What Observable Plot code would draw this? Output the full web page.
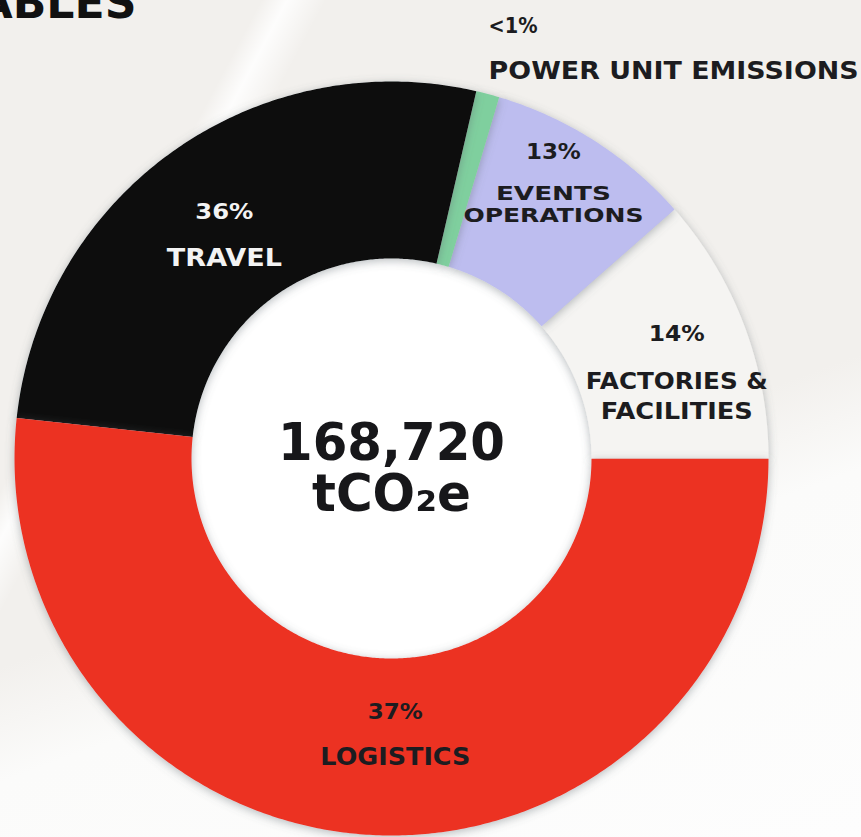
<!DOCTYPE html>
<html>
<head>
<meta charset="utf-8">
<script src="https://cdn.jsdelivr.net/npm/d3@7"></script>
<script src="https://cdn.jsdelivr.net/npm/@observablehq/plot@0.6"></script>
<style>
  html, body { margin: 0; padding: 0; }
  body {
    width: 861px; height: 837px; overflow: hidden; position: relative;
    background:
      linear-gradient(118deg, rgba(255,255,255,0) 0 20%, rgba(255,255,255,0.85) 22%, rgba(255,255,255,0) 25%),
      linear-gradient(160deg, #f2f0ed 0 58%, #fbfbfa 68%, #fdfdfd 100%);
  }
  #chart svg { display: block; }
</style>
</head>
<body>
<div id="chart"></div>
<script>
// ---- data ----
const categories = ["POWER UNIT EMISSIONS", "EVENTS OPERATIONS", "FACTORIES & FACILITIES", "LOGISTICS", "TRAVEL"];
const nameLines  = [["POWER UNIT EMISSIONS"], ["EVENTS", "OPERATIONS"], ["FACTORIES &", "FACILITIES"], ["LOGISTICS"], ["TRAVEL"]];
const pctLabels  = ["<1%", "13%", "14%", "37%", "36%"];
// share of the ring as it is drawn in the picture (percent of the full circle)
const arcShare   = [1.0, 8.9, 11.5, 51.7, 26.9];
const totalValue = "168,720";
const totalUnit  = "tCO\u2082e";
const headingFragment = "ABLES";

// ---- styles / layout ----
const colors = ["#7fcf9e", "#bdbdef", "#f5f4f2", "#ec3323", "#0b0b0b"];
const textColors = ["#1c1c20", "#1c1c20", "#1c1c20", "#1c1c20", "#f3f3f3"];
const W = 861, H = 837;
const PX = 377;            // px per unit (outer radius = 1)
const CX = 391, CY = 458;  // ring centre in px
const R_IN = 200 / PX;
const START = 13;          // ring starts (deg clockwise from 12 o'clock)
// label block anchors (polar: deg, px) and row offsets (px)
const labelLayout = [
  {ang: 12.66, r: 443, anchor: "start", rows: [0, 45], sizes: [21, 25]},
  {ang: 30.5,  r: 319, anchor: "middle", rows: [-32, 10, 32], sizes: [22, 20, 20]},
  {ang: 73.2,  r: 298, anchor: "middle", rows: [-38, 9, 39], sizes: [22, 23, 23]},
  {ang: 179.2, r: 276, anchor: "middle", rows: [-23, 23], sizes: [22, 24]},
  {ang: 323.2, r: 279, anchor: "middle", rows: [-23, 23], sizes: [22, 24]}
];
const textWidths = {
  "<1%": 49, "POWER UNIT EMISSIONS": 370, "13%": 55, "EVENTS": 115, "OPERATIONS": 180,
  "14%": 56, "FACTORIES &": 182, "FACILITIES": 152, "37%": 55, "LOGISTICS": 150,
  "36%": 58, "TRAVEL": 115, "168,720": 227, "tCO\u2082e": 159, "ABLES": 158
};

// ---- geometry from data ----
const total = d3.sum(arcShare);
let acc = START;
const slices = categories.map((c, i) => {
  const a0 = acc, a1 = acc + arcShare[i] / total * 360;
  acc = a1;
  return {c, i, a0, a1};
});
const rad = d => d * Math.PI / 180;
function ringPoints(s, rIn, rOut) {
  const pts = [];
  const n = Math.max(2, Math.ceil((s.a1 - s.a0) / 0.5));
  for (let k = 0; k <= n; k++) {
    const a = rad(s.a0 + (s.a1 - s.a0) * k / n);
    pts.push({x: rOut * Math.sin(a), y: rOut * Math.cos(a)});
  }
  for (let k = n; k >= 0; k--) {
    const a = rad(s.a0 + (s.a1 - s.a0) * k / n);
    pts.push({x: rIn * Math.sin(a), y: rIn * Math.cos(a)});
  }
  pts.push(pts[0]);
  return pts;
}
const diskPts = ringPoints({a0: 0, a1: 360}, 0, R_IN + 0.01);

// label rows
const rows = [];
slices.forEach((s, i) => {
  const L = labelLayout[i];
  const ax = (L.r / PX) * Math.sin(rad(L.ang));
  const ay = (L.r / PX) * Math.cos(rad(L.ang));
  const texts = [pctLabels[i], ...nameLines[i]];
  texts.forEach((t, j) => {
    rows.push({x: ax, y: ay - L.rows[j] / PX, text: t, size: L.sizes[j], anchor: L.anchor, fill: textColors[i]});
  });
});
rows.push({x: 0, y: 15 / PX, text: totalValue, size: 52, anchor: "middle", fill: "#17171a"});
rows.push({x: 0, y: -36 / PX, text: totalUnit, size: 52, anchor: "middle", fill: "#17171a"});

const groups = d3.groups(rows, d => `${d.size}|${d.anchor}|${d.fill}`);

const drawOrder = [2, 1, 0, 4, 3];
const marks = [
  Plot.line(diskPts, {x: "x", y: "y", fill: "#ffffff", stroke: "none", curve: "linear"}),
  ...drawOrder.map(i => Plot.line(ringPoints(slices[i], R_IN, 1), {x: "x", y: "y", fill: colors[i], stroke: "none", curve: "linear"})),
  ...groups.map(([key, g]) => Plot.text(g, {
    x: "x", y: "y", text: "text", fill: g[0].fill, fontSize: g[0].size, textAnchor: g[0].anchor,
    fontWeight: "bold", fontFamily: "DejaVu Sans"
  })),
  Plot.text([headingFragment], {
    frameAnchor: "top-left", text: d => d, dx: 136, dy: 17, lineAnchor: "bottom",
    textAnchor: "end", fontSize: 44, fontWeight: 900, fontFamily: "DejaVu Sans", fill: "#111"
  })
];

const chart = Plot.plot({
  width: W, height: H, margin: 0,
  style: "background: transparent; overflow: visible;",
  x: {domain: [-CX / PX, (W - CX) / PX], axis: null},
  y: {domain: [-(H - CY) / PX, CY / PX], axis: null},
  marks
});
document.getElementById("chart").appendChild(chart);

// soft shadows & text widths
const svg = d3.select(chart);
const defs = svg.insert("defs", ":first-child");
const f = defs.append("filter").attr("id", "sh").attr("x", "-20%").attr("y", "-20%").attr("width", "140%").attr("height", "140%");
f.append("feDropShadow").attr("dx", 0).attr("dy", 2).attr("stdDeviation", 5)
  .attr("flood-color", "#5f676d").attr("flood-opacity", 0.45);
const lineGroups = chart.querySelectorAll('g[aria-label="line"]');
lineGroups.forEach((g, k) => { if (k > 0) g.setAttribute("filter", "url(#sh)"); });
chart.querySelectorAll("text").forEach(t => {
  const w = textWidths[t.textContent];
  if (w) { t.setAttribute("textLength", w); t.setAttribute("lengthAdjust", "spacingAndGlyphs"); }
});
</script>
</body>
</html>
